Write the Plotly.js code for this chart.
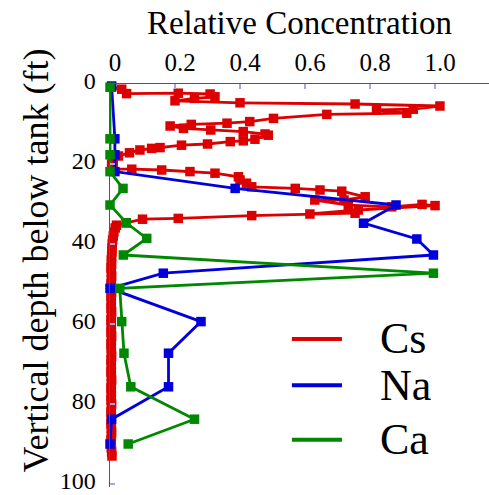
<!DOCTYPE html>
<html>
<head>
<meta charset="utf-8">
<script src="https://cdn.plot.ly/plotly-3.0.1.min.js"></script>
<style>html,body{margin:0;padding:0;background:#fff;}#chart{width:489px;height:495px;}</style>
</head>
<body>
<div id="chart"></div>
<script>
// Cs relative concentration vs depth (ft)
const csDepth = [0.8,1.3,2.4,2.3,2.5,3.2,3.6,4.2,4.7,5.0,5.5,6.3,6.5,7.3,7.6,8.6,9.4,9.8,10.1,10.5,11.1,11.5,11.9,12.5,12.8,13.8,14.2,14.4,15.0,15.3,15.9,16.1,16.5,17.2,18.0,19.4,20.0,21.3,21.3,21.5,21.9,22.3,23.2,24.0,24.8,25.7,26.1,26.5,26.8,28.2,29.0,29.0,30.3,30.7,30.1,30.4,31.5,32.5,32.3,32.9,33.6,33.8,34.7,35.3,
  36,37,38,39,40,41,42,43,44,45,46,47,48,49,50,51,52,53,54,55,56,57,58,59,60,61,62,63,64,65,66,67,68,69,70,71,72,73,74,75,76,77,78,79,80,81,82,83,84,85,86,87,88,89,90,91,92,93];
const csValue = [0.005,0.036,0.051,0.21,0.308,0.323,0.26,0.20,0.40,0.754,1.015,0.933,0.82,0.913,0.667,0.503,0.43,0.36,0.25,0.185,0.226,0.31,0.41,0.477,0.487,0.446,0.41,0.37,0.30,0.22,0.154,0.128,0.092,0.06,0.026,0.01,0.005,0.01,0.067,0.159,0.246,0.323,0.395,0.40,0.42,0.436,0.57,0.646,0.713,0.785,0.72,0.63,0.733,0.867,0.96,1.0,0.764,0.615,0.754,0.436,0.21,0.10,0.05,0.02,
  0.016,0.012,0.010,0.008,0.007,0.006,0.006,0.005,0.004,0.005,0.003,0.004,0.005,0.004,0.003,0.004,0.005,0.003,0.004,0.004,0.003,0.005,0.004,0.003,0.004,0.004,0.003,0.005,0.004,0.003,0.004,0.004,0.005,0.003,0.004,0.004,0.003,0.004,0.005,0.004,0.003,0.004,0.004,0.003,0.005,0.004,0.003,0.004,0.004,0.003,0.004,0.005,0.004,0.003,0.004,0.004,0.005,0.006];
// Na
const naDepth = [0.5,13.7,17.7,21.9,26.1,30.25,34.8,38.75,42.75,47.3,51.1,59.4,67.3,75.7,83.8,90];
const naValue = [0.005,0.015,0.015,0.015,0.385,0.88,0.78,0.944,0.995,0.164,0.0,0.28,0.18,0.18,0.005,0.0];
// Ca
const caDepth = [0.8,13.7,17.7,21.9,26.1,30.25,34.7,38.6,42.75,47.3,51.1,59.4,67.3,75.7,83.8,90];
const caValue = [0,0,0,0,0.04,0,0.05,0.113,0.041,0.995,0.03,0.036,0.043,0.064,0.26,0.056];

const seriesNames = ['Cs','Na','Ca'];
const seriesColors = ['#dd0000','#0000dd','#008800'];
const xTicks = [0,0.2,0.4,0.6,0.8,1.0];
const xTickText = ['0','0.2','0.4','0.6','0.8','1.0'];
const yTicks = [0,20,40,60,80,100];

const FAM = 'Times New Roman';
function tr(x, y, i) {
  return {x: x, y: y, name: seriesNames[i], type: 'scatter', mode: 'lines+markers',
    cliponaxis: false, showlegend: false,
    line: {color: seriesColors[i], width: 2.8},
    marker: {symbol: 'square', size: 9.5, color: seriesColors[i], line: {width: 0}}};
}
const data = [tr(csValue, csDepth, 0), tr(naValue, naDepth, 1), tr(caValue, caDepth, 2)];

// custom legend (line keys + labels)
const legY = [0.3675, 0.2525, 0.1175];
const shapes = seriesNames.map((n, i) => ({type: 'line', xref: 'paper', yref: 'paper',
  x0: 0.48, x1: 0.612, y0: legY[i], y1: legY[i], line: {color: seriesColors[i], width: 4}}));
const annotations = seriesNames.map((n, i) => ({text: n, xref: 'paper', yref: 'paper',
  x: 0.707, y: legY[i], xanchor: 'left', yanchor: 'middle', showarrow: false,
  font: {family: FAM, size: 44, color: '#000'}}));
annotations.push({text: 'Vertical depth below tank (ft)', xref: 'paper', yref: 'paper',
  x: -0.195, y: 0.5625, xanchor: 'center', yanchor: 'middle', textangle: -90, showarrow: false,
  font: {family: FAM, size: 36, color: '#000'}});

const layout = {
  width: 489, height: 495,
  font: {family: FAM, color: '#000'},
  margin: {l: 110, r: 0, t: 84, b: 8, pad: 0},
  paper_bgcolor: '#fff', plot_bgcolor: '#fff',
  showlegend: false,
  xaxis: {side: 'top', range: [0, 1.166], tickvals: xTicks, ticktext: xTickText,
    ticks: 'inside', ticklen: 5, tickcolor: '#a8a8e0', tickwidth: 1.5,
    showline: true, linecolor: '#555', linewidth: 1.5, showgrid: false, zeroline: false,
    ticklabelshift: 5, ticklabelstandoff: 2,
    tickfont: {family: FAM, size: 25, color: '#000'},
    title: {text: 'Relative Concentration', font: {family: FAM, size: 33, color: '#000'}, standoff: 4}},
  yaxis: {range: [100.75, 0], tickvals: yTicks,
    ticks: 'inside', ticklen: 5, tickcolor: '#a8a8e0', tickwidth: 1.5,
    showline: true, linecolor: '#555', linewidth: 1.5, showgrid: false, zeroline: false,
    ticklabelstandoff: 8, ticklabelshift: 3, ticklabeloverflow: 'allow',
    tickfont: {family: FAM, size: 24, color: '#000'}},
  shapes: shapes,
  annotations: annotations
};
Plotly.newPlot('chart', data, layout, {displayModeBar: false, staticPlot: true});
</script>
</body>
</html>
